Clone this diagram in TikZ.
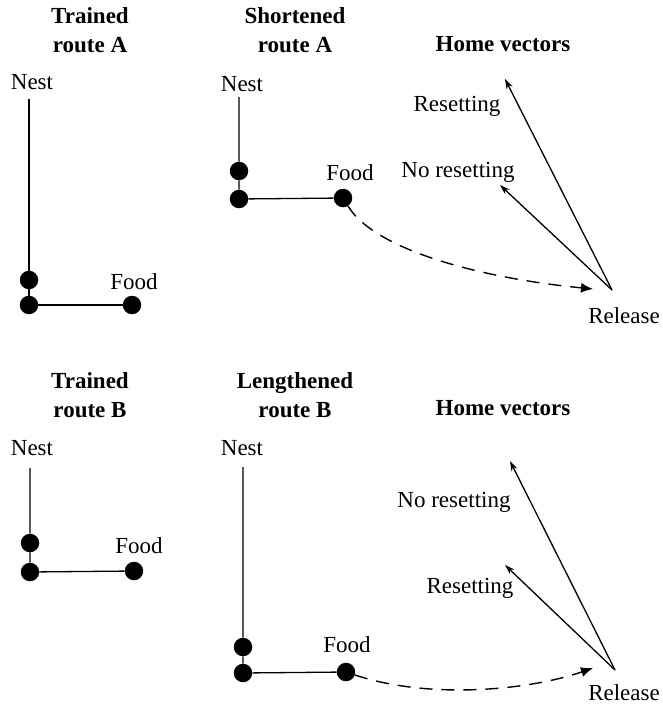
\documentclass[tikz,border=0pt]{standalone}
\usepackage{fontspec}
\setmainfont{Liberation Serif}
\usetikzlibrary{arrows.meta}
\begin{document}
\begin{tikzpicture}[x=1pt,y=-1pt]
	\tikzstyle{Label} = [font=\fontsize{23}{29}\selectfont, inner sep=0pt, anchor=base]
	\tikzstyle{Title} = [Label, font=\fontsize{23}{29}\selectfont\bfseries, align=center]
	\tikzstyle{Dot} = [circle, fill=black, inner sep=0pt, minimum size=18.5pt]
	\tikzstyle{route} = [line width=1.3pt]
	\tikzstyle{vector} = [line width=1.3pt, -{Stealth[length=10pt, width=6.5pt]}]
	\tikzstyle{walk} = [line width=1.4pt, dash pattern=on 13pt off 9pt, -{Latex[length=12pt, width=10pt]}]
	
	\useasboundingbox (0,0) rectangle (662,706);
	
	% trained route A
	\node (titleTA) [Title] at (90,53) {Trained\\route A};
	\node (nestTA) [Label] at (32,90) {Nest};
	\coordinate (topTA) at (29,99);
	\node (stopTA) [Dot] at (29,280) {};
	\node (turnTA) [Dot] at (29,305) {};
	\node (foodTA) [Dot] at (132,305) {};
	\node (foodTAlab) [Label] at (134,289) {Food};
	\draw [route] (topTA) -- (stopTA) -- (turnTA) -- (foodTA);
	
	% shortened route A
	\node (titleSA) [Title] at (295,53) {Shortened\\route A};
	\node (nestSA) [Label] at (242,92) {Nest};
	\coordinate (topSA) at (239,97);
	\node (stopSA) [Dot] at (239,171) {};
	\node (turnSA) [Dot] at (239,199) {};
	\node (foodSA) [Dot] at (343,198) {};
	\node (foodSAlab) [Label] at (350,180) {Food};
	\draw [route] (topSA) -- (stopSA) -- (turnSA) -- (foodSA);
	\coordinate (backA) at (593,289);
	\draw [walk] (foodSA) .. controls (375,250) and (480,278) .. (backA);
	
	% home vectors A
	\node (titleHA) [Title] at (503,52) {Home vectors};
	\coordinate (relA) at (612,290);
	\node (relAlab) [Label] at (624,323) {Release};
	\coordinate (resA) at (505,79);
	\coordinate (noresA) at (500,185);
	\node (resAlab) [Label] at (457,112) {Resetting};
	\node (noresAlab) [Label] at (458,177) {No resetting};
	\draw [vector] (relA) -- (resA);
	\draw [vector] (relA) -- (noresA);
	
	% trained route B
	\node (titleTB) [Title] at (90,417) {Trained\\route B};
	\node (nestTB) [Label] at (32,455) {Nest};
	\coordinate (topTB) at (30,468);
	\node (stopTB) [Dot] at (30,543) {};
	\node (turnTB) [Dot] at (30,572) {};
	\node (foodTB) [Dot] at (134,571) {};
	\node (foodTBlab) [Label] at (139,553) {Food};
	\draw [route] (topTB) -- (stopTB) -- (turnTB) -- (foodTB);
	
	% lengthened route B
	\node (titleLB) [Title] at (295,417) {Lengthened\\route B};
	\node (nestLB) [Label] at (242,455) {Nest};
	\coordinate (topLB) at (243,467);
	\node (stopLB) [Dot] at (243,647) {};
	\node (turnLB) [Dot] at (243,673) {};
	\node (foodLB) [Dot] at (346,672) {};
	\node (foodLBlab) [Label] at (347,652) {Food};
	\draw [route] (topLB) -- (stopLB) -- (turnLB) -- (foodLB);
	\coordinate (backB) at (593,668);
	\draw [walk] (foodLB) .. controls (430,700) and (530,690) .. (backB);
	
	% home vectors B
	\node (titleHB) [Title] at (503,415) {Home vectors};
	\coordinate (relB) at (615,670);
	\node (relBlab) [Label] at (624,700) {Release};
	\coordinate (noresB) at (510,461);
	\coordinate (resB) at (505,565);
	\node (noresBlab) [Label] at (454,507) {No resetting};
	\node (resBlab) [Label] at (470,593) {Resetting};
	\draw [vector] (relB) -- (noresB);
	\draw [vector] (relB) -- (resB);
\end{tikzpicture}
\end{document}
